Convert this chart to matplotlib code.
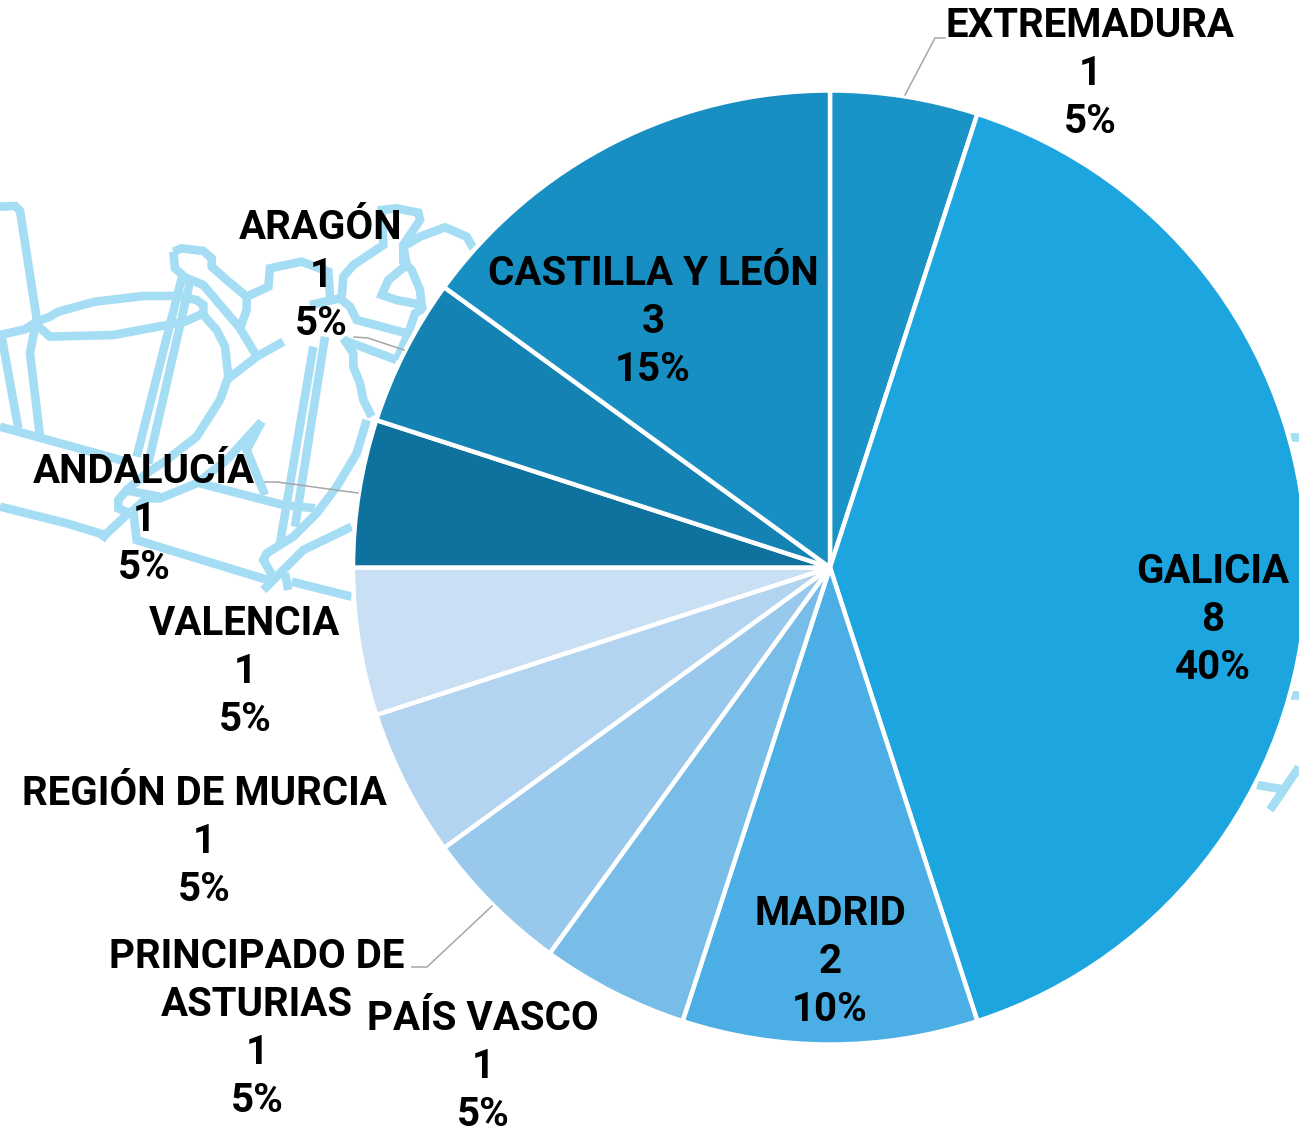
import matplotlib
matplotlib.use("Agg")
import matplotlib.pyplot as plt

W, H = 1299, 1132
regions = ["EXTREMADURA", "GALICIA", "MADRID", "PAÍS VASCO", "PRINCIPADO DE\nASTURIAS",
           "REGIÓN DE MURCIA", "VALENCIA", "ANDALUCÍA", "ARAGÓN", "CASTILLA Y LEÓN"]
values = [1, 8, 2, 1, 1, 1, 1, 1, 1, 3]
colors = ["#1A93C6", "#1DA5DF", "#4BAEE4", "#78BCE8", "#98C9EC", "#B2D4F0", "#C9DFF4",
          "#0F729E", "#1483B3", "#188FC2"]
label_centres = [(1090, 74), (1213, 620), (830, 962), (483, 1067), (257, 1029),
                 (204, 842), (245, 672), (144, 520), (321, 276), (653, 322)]

centre = (830, 567.5)
radius = 477

map_lines_zoomed = [
    [(0,50),(45,48),(60,62),(110,385),(90,490),(120,740)],
    [(0,435),(75,418),(110,395),(150,380),(175,365),(285,335),(430,318),(530,318),(590,330),(610,345),(610,370),(555,395),(340,435),(150,440),(110,405)],
    [(5,440),(55,715)],
    [(0,710),(380,815)],
    [(600,880),(850,945),(945,955)],
    [(545,265),(410,800)],
    [(570,275),(445,820)],
    [(520,185),(545,175),(610,183),(635,205),(635,230),(680,270),(740,320),(805,290),(810,235),(905,215),(985,245),(990,320)],
    [(520,185),(525,235),(555,262),(610,285),(720,415),(765,490)],
    [(740,320),(740,360),(720,415)],
    [(680,570),(770,500),(850,455)],
    [(610,375),(650,420),(675,470),(685,560),(660,630),(590,740),(500,810),(440,850),(380,900),(355,930),(355,955),(390,970)],
    [(0,950),(200,1000),(315,1035),(390,965)],
    [(305,1050),(315,1035)],
    [(370,900),(480,920)],
    [(680,810),(785,695)],
    [(785,695),(740,780),(795,915)],
    [(395,965),(440,925),(480,925),(590,880),(680,810)],
    [(400,965),(410,1050),(820,1175)],
    [(940,470),(840,1060)],
    [(975,440),(885,1010)],
    [(1100,690),(1070,790),(1010,890),(950,970),(880,1040),(800,1090),(790,1110),(825,1170)],
    [(790,1200),(910,1080),(1055,1010)],
    [(855,1150),(865,1200)],
    [(875,1175),(1055,1220)],
    [(930,345),(1020,325),(1050,350),(1070,390),(1220,430)],
    [(1030,445),(1060,490),(1060,530),(1080,580),(1090,630),(1115,680)],
    [(1030,450),(1190,510)],
    [(1025,320),(1030,260),(1060,225),(1150,165),(1145,60),(1190,55),(1255,68),(1260,90),(1210,165),(1210,215),(1235,240),(1260,300),(1265,345),(1190,330),(1145,315),(1165,270),(1220,225),(1210,170),(1260,140),(1335,112),(1400,140),(1420,175)],
    [(1280,350),(1245,370),(1225,430),(1190,510)],
]
map_lines_px = [[(x/3, 190 + y/3) for x, y in line] for line in map_lines_zoomed]
map_lines_px += [
    [(1290,437),(1299,437)],
    [(1290,695),(1299,695)],
    [(1257,785),(1287,790)],
    [(1270,810),(1299,767)],
]
leaders_px = [
    [(905,95),(935,38),(945,38)],
    [(354,337),(368,338),(404,350)],
    [(265,482),(277,482),(358,493)],
    [(492,906),(427,967),(412,967)],
]

fig = plt.figure(figsize=(W/100, H/100), dpi=100, facecolor="white")
ax = fig.add_axes([0, 0, 1, 1])

def fy(p):
    return H - p

for line in map_lines_px:
    ax.plot([p[0] for p in line], [fy(p[1]) for p in line], color="#A5DDF5", lw=6.2,
            solid_joinstyle="miter", solid_capstyle="butt", zorder=1)

wedges, _ = ax.pie(values, colors=colors, startangle=90, counterclock=False,
                   center=(centre[0], fy(centre[1])), radius=radius,
                   frame=True,
                   wedgeprops=dict(edgecolor="white", linewidth=3.2, zorder=2))
ax.set_xlim(0, W)
ax.set_ylim(0, H)
ax.set_aspect("equal")
ax.axis("off")

for line in leaders_px:
    ax.plot([p[0] for p in line], [fy(p[1]) for p in line], color="#A6A6A6", lw=1.1, zorder=3)

total = sum(values)
for name, v, (cx, cy) in zip(regions, values, label_centres):
    ax.text(cx, fy(cy), f"{name}\n{v}\n{round(100*v/total)}%", ha="center", va="center",
            ma="center", family="Roboto", fontweight="bold", fontsize=29, linespacing=1.34,
            color="black", zorder=4)

fig.savefig("out.png", dpi=100)
